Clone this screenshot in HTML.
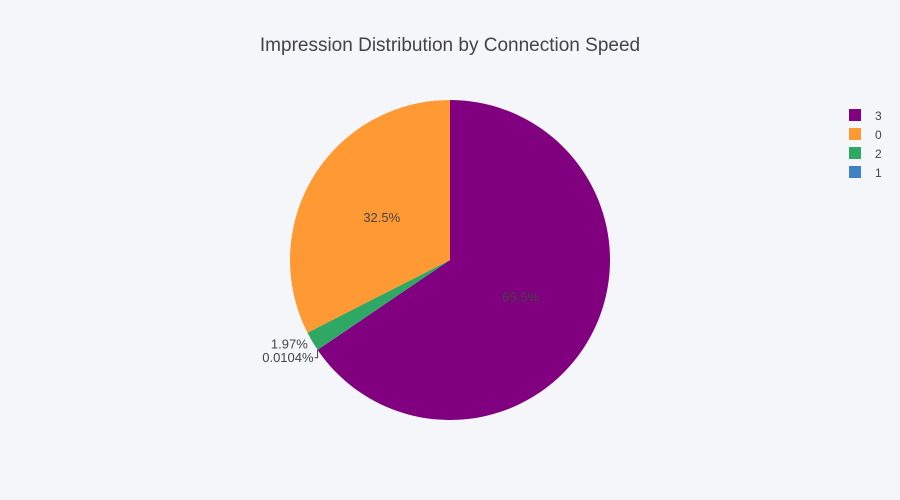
<!DOCTYPE html>
<html><head><meta charset="utf-8"><style>
body{margin:0;background:#f5f6fa;}
svg{display:block;font-family:"Liberation Sans",sans-serif;}
</style></head><body>
<svg id="chart" width="900" height="500">
<rect width="900" height="500" fill="#f5f6fa"/>
<text x="450" y="51" text-anchor="middle" font-size="19" fill="#444">Impression Distribution by Connection Speed</text>
<g id="slices"></g>
<g id="legend"></g>
</svg>
<script>
const labels = ["3","1","2","0"];
const values = [65.5, 0.0104, 1.97, 32.5];
const colors = ["#800080","#3d82c4","#2ea862","#ff9933"];
const textLabels = ["65.5%","0.0104%","1.97%","32.5%"];
const legendOrder = ["3","0","2","1"];
const NS="http://www.w3.org/2000/svg";
const cx=450, cy=260, R=160;
const total=values.reduce((a,b)=>a+b,0);
const g=document.getElementById('slices');
function pt(a,r){return [cx+r*Math.sin(a), cy-r*Math.cos(a)];}
let a0=0;
values.forEach((v,i)=>{
  const a1=a0+v/total*2*Math.PI;
  const p0=pt(a0,R), p1=pt(a1,R);
  const path=document.createElementNS(NS,'path');
  path.setAttribute('d',`M${cx},${cy}L${p0[0]},${p0[1]}A${R},${R} 0 ${a1-a0>Math.PI?1:0} 1 ${p1[0]},${p1[1]}Z`);
  path.setAttribute('fill',colors[i]);
  
  
  g.appendChild(path);
  const mid=(a0+a1)/2;
  const frac=v/total;
  const t=document.createElementNS(NS,'text');
  t.setAttribute('font-size','13');t.setAttribute('fill','#444');
  t.textContent=textLabels[i];
  if(frac>0.05){
    const p=pt(mid,R*0.5);
    t.setAttribute('x',p[0]);t.setAttribute('y',p[1]+4);t.setAttribute('text-anchor','middle');
  } else if(frac>0.001){
    const p=pt(mid,R+4);
    t.setAttribute('x',p[0]-1);t.setAttribute('y',p[1]+5);t.setAttribute('text-anchor','end');
  } else {
    const p=pt(mid,R);
    const l=document.createElementNS(NS,'path');
    l.setAttribute('d',`M${p[0]},${p[1]}V${p[1]+8}H${p[0]-3}`);
    l.setAttribute('stroke','#444');l.setAttribute('fill','none');
    
    
    g.appendChild(l);
    t.setAttribute('x',p[0]-4);t.setAttribute('y',p[1]+12);t.setAttribute('text-anchor','end');
  }
  
  
  g.appendChild(t);
  a0=a1;
});
const lg=document.getElementById('legend');
legendOrder.forEach((lab,k)=>{
  const i=labels.indexOf(lab);
  const y=109+k*19;
  const r=document.createElementNS(NS,'rect');
  r.setAttribute('x',849);r.setAttribute('y',y);r.setAttribute('width',12);r.setAttribute('height',12);
  r.setAttribute('fill',colors[i]);
  
  
  lg.appendChild(r);
  const t=document.createElementNS(NS,'text');
  t.setAttribute('x',875);t.setAttribute('y',y+11);t.setAttribute('font-size','12');t.setAttribute('fill','#444');
  t.textContent=lab;
  
  
  lg.appendChild(t);
});
</script>
</body></html>
